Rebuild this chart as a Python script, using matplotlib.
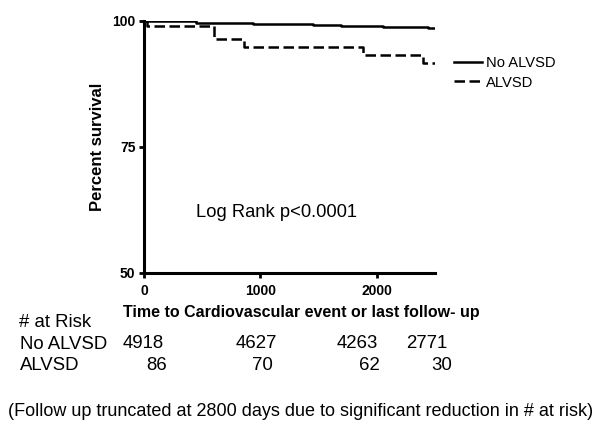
import matplotlib
matplotlib.use("Agg")
import matplotlib.pyplot as plt
import matplotlib.transforms as mtransforms

plt.rcParams['font.family'] = ['Liberation Sans', 'DejaVu Sans']

# Kaplan-Meier steps (days, percent survival)
no_alvsd_t = [0, 450, 940, 1450, 1690, 2050, 2440, 2500]
no_alvsd_s = [100, 99.65, 99.4, 99.2, 99.0, 98.75, 98.55, 98.55]
alvsd_t = [0, 25, 600, 860, 1880, 2400, 2500]
alvsd_s = [100, 99.0, 96.4, 94.9, 93.25, 91.7, 91.7]

# numbers at risk
risk_labels = ['No ALVSD', 'ALVSD']
risk_no_alvsd = [4918, 4627, 4263, 2771]
risk_alvsd = [86, 70, 62, 30]
pos_no_alvsd = [172, 1142, 2009, 2609]
pos_alvsd = [197, 1107, 2026, 2644]

fig = plt.figure(figsize=(6, 4.48), dpi=100)
ax = fig.add_axes([0.24, 1 - 273 / 448, 0.485, 252 / 448])

ax.step(no_alvsd_t, no_alvsd_s, where='post', color='black', lw=1.8, label='No ALVSD')
ax.step(alvsd_t, alvsd_s, where='post', color='black', lw=1.8, ls=(0, (4.2, 1.8)),
        label='ALVSD')

ax.set_xlim(0, 2500)
ax.set_ylim(50, 100)
ax.set_xticks([0, 1000, 2000])
ax.set_yticks([50, 75, 100])
for s in ['top', 'right']:
    ax.spines[s].set_visible(False)
for s in ['left', 'bottom']:
    ax.spines[s].set_linewidth(2.2)
ax.tick_params(width=2, length=3.6, labelsize=10)
ax.tick_params(axis='x', pad=4)
ax.tick_params(axis='y', pad=2.5)
for lab in ax.get_xticklabels() + ax.get_yticklabels():
    lab.set_fontweight('bold')

ax.set_ylabel('Percent survival', fontsize=12, fontweight='bold', labelpad=5)
ax.set_xlabel('Time to Cardiovascular event or last follow- up', fontsize=11.5,
              fontweight='bold', labelpad=5, x=0.54)

ax.text(0.457, 0.242, 'Log Rank p<0.0001', transform=ax.transAxes, fontsize=13.2,
        ha='center', va='center')

ax.legend(loc='center left', bbox_to_anchor=(454 / 600, 1 - 73 / 448),
          bbox_transform=fig.transFigure, frameon=False, fontsize=10.6,
          handlelength=1.9, handletextpad=0.3, labelspacing=0.35, borderaxespad=0,
          borderpad=0)

# risk table
trans = mtransforms.blended_transform_factory(ax.transData, fig.transFigure)
fs = 13.4
fig.text(19 / 600, 1 - 322 / 448, '# at Risk', fontsize=fs, va='center')
fig.text(20 / 600, 1 - 344 / 448, risk_labels[0], fontsize=fs, va='center')
fig.text(20 / 600, 1 - 365 / 448, risk_labels[1], fontsize=fs, va='center')
for x, n in zip(pos_no_alvsd, risk_no_alvsd):
    ax.text(x, 1 - 343 / 448, str(n), transform=trans, fontsize=fs, ha='right',
            va='center', clip_on=False)
for x, n in zip(pos_alvsd, risk_alvsd):
    ax.text(x, 1 - 365 / 448, str(n), transform=trans, fontsize=fs, ha='right',
            va='center', clip_on=False)

fig.text(301 / 600, 1 - 412 / 448,
         '(Follow up truncated at 2800 days due to significant reduction in # at risk)',
         fontsize=13, ha='center', va='center')

fig.savefig('out.png', dpi=100)
